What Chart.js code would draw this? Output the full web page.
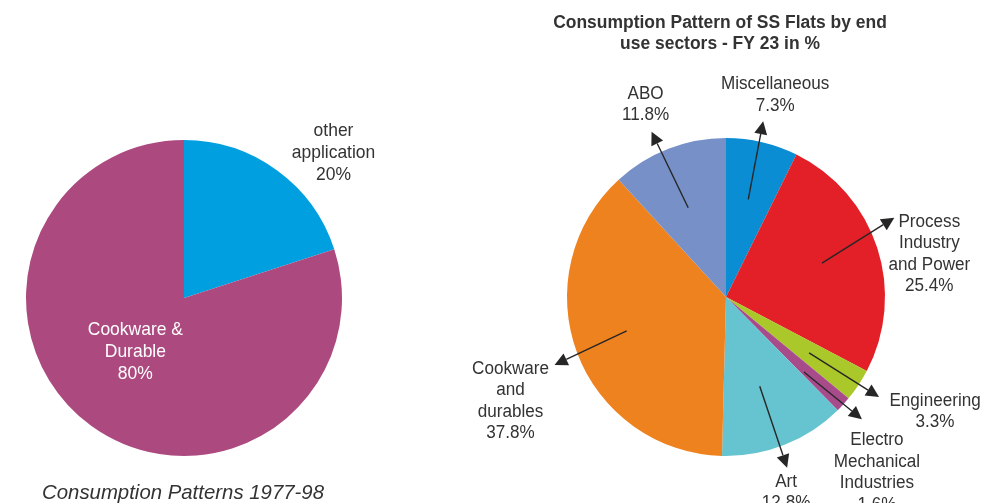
<!DOCTYPE html>
<html>
<head>
<meta charset="utf-8">
<script src="https://cdn.jsdelivr.net/npm/chart.js@4/dist/chart.umd.min.js"></script>
<style>
  html, body { margin: 0; padding: 0; background: #fff; }
  body { width: 1004px; height: 503px; position: relative; overflow: hidden; }
  .box { position: absolute; top: 0; height: 503px; }
  #leftBox { left: 0; width: 380px; }
  #rightBox { left: 380px; width: 624px; }
</style>
</head>
<body>
<div class="box" id="leftBox"><canvas id="pieOld"></canvas></div>
<div class="box" id="rightBox"><canvas id="pieFY23"></canvas></div>
<script>
// 1977-98 split
var oldLabels = [["other", "application"], ["Cookware &", "Durable"]];
var oldValues = [20, 80];
var oldColors = ["#009fe0", "#ac4a80"];

// FY 23 end use sectors, %
var fyLabels = [
  ["Miscellaneous"],
  ["Process", "Industry", "and Power"],
  ["Engineering"],
  ["Electro", "Mechanical", "Industries"],
  ["Art"],
  ["Cookware", "and", "durables"],
  ["ABO"]
];
var fyValues = [7.3, 25.4, 3.3, 1.6, 12.8, 37.8, 11.8];
var fyColors = ["#0a8dd3", "#e31f27", "#abc82a", "#a74b8b", "#66c3d0", "#ee821f", "#7791c8"];

var FONT = "'Liberation Sans', Arial, sans-serif";
var INK = "#333333";

// polar helper: angle offset in degrees, radius as fraction of outer radius
function polar(arc, dDeg, rf) {
  var a = (arc.startAngle + arc.endAngle) / 2 + dDeg * Math.PI / 180;
  return { x: arc.x + Math.cos(a) * arc.outerRadius * rf, y: arc.y + Math.sin(a) * arc.outerRadius * rf };
}

// text squeezed horizontally to get the narrow look
function squeezed(ctx, t, x, y, sx) {
  ctx.save();
  ctx.translate(x, y);
  ctx.scale(sx, 1);
  ctx.fillText(t, 0, 0);
  ctx.restore();
}

function drawLines(ctx, lines, x, y, lh, sx) {
  lines.forEach(function (t, i) { squeezed(ctx, t, x, y + i * lh, sx); });
}

function arrow(ctx, from, to) {
  var ang = Math.atan2(to.y - from.y, to.x - from.x);
  var len = 13, half = 6.5;
  var bx = to.x - Math.cos(ang) * len, by = to.y - Math.sin(ang) * len;
  ctx.strokeStyle = "#262626";
  ctx.fillStyle = "#262626";
  ctx.lineWidth = 1.4;
  ctx.beginPath();
  ctx.moveTo(from.x, from.y);
  ctx.lineTo(bx, by);
  ctx.stroke();
  ctx.beginPath();
  ctx.moveTo(to.x, to.y);
  ctx.lineTo(bx - Math.sin(ang) * half, by + Math.cos(ang) * half);
  ctx.lineTo(bx + Math.sin(ang) * half, by - Math.cos(ang) * half);
  ctx.closePath();
  ctx.fill();
}

// label placement for the old chart: [angle offset, radius fraction, colour]
var oldPlace = [[9.8, 1.32, INK], [6, 0.46, "#ffffff"]];

var oldNotes = {
  id: "oldNotes",
  afterDraw: function (chart) {
    var ctx = chart.ctx;
    var arcs = chart.getDatasetMeta(0).data;
    ctx.save();
    ctx.font = "19px " + FONT;
    ctx.textAlign = "center";
    ctx.textBaseline = "middle";
    arcs.forEach(function (el, i) {
      var arc = el.getProps(["x", "y", "startAngle", "endAngle", "outerRadius"], true);
      var p = polar(arc, oldPlace[i][0], oldPlace[i][1]);
      var lines = oldLabels[i].concat([oldValues[i] + "%"]);
      ctx.fillStyle = oldPlace[i][2];
      drawLines(ctx, lines, p.x, p.y - (lines.length - 1) * 11, 22, 0.92);
    });
    ctx.fillStyle = INK;
    ctx.font = "italic 21px " + FONT;
    ctx.textBaseline = "alphabetic";
    squeezed(ctx, "Consumption Patterns 1977-98", arcs[0].x - 1, 499, 0.97);
    ctx.restore();
  }
};

// arrow tail [deg, r], arrow tip [deg, r], first text line offset from tip [dx, dy]
var fyPlace = [
  [[-0.3, 0.63], [-1.2, 1.13], [12, -37]],
  [[-1.5, 0.64], [-7.2, 1.17], [35, 4]],
  [[0.3, 0.63], [-0.5, 1.15], [56, 4]],
  [[1.4, 0.68], [-0.5, 1.15], [15, 21]],
  [[0.9, 0.60], [1.9, 1.14], [-1, 14]],
  [[1.7, 0.66], [-1.1, 1.16], [-44, 4]],
  [[-1.7, 0.61], [-3.0, 1.14], [-6, -38]]
];

var fyNotes = {
  id: "fyNotes",
  afterDraw: function (chart) {
    var ctx = chart.ctx;
    var arcs = chart.getDatasetMeta(0).data;
    ctx.save();
    arcs.forEach(function (el, i) {
      var arc = el.getProps(["x", "y", "startAngle", "endAngle", "outerRadius"], true);
      var pl = fyPlace[i];
      var from = polar(arc, pl[0][0], pl[0][1]);
      var tip = polar(arc, pl[1][0], pl[1][1]);
      arrow(ctx, from, tip);
      var lines = fyLabels[i].concat([fyValues[i].toFixed(1) + "%"]);
      ctx.fillStyle = INK;
      ctx.font = "18px " + FONT;
      ctx.textAlign = "center";
      ctx.textBaseline = "middle";
      drawLines(ctx, lines, tip.x + pl[2][0], tip.y + pl[2][1], 21.5, 0.95);
    });
    ctx.fillStyle = INK;
    ctx.font = "bold 18px " + FONT;
    ctx.textAlign = "center";
    ctx.textBaseline = "alphabetic";
    var cx = arcs[0].x - 6;
    squeezed(ctx, "Consumption Pattern of SS Flats by end", cx, 28, 0.97);
    squeezed(ctx, "use sectors - FY 23 in %", cx, 49, 0.97);
    ctx.restore();
  }
};

var common = {
  responsive: true,
  maintainAspectRatio: false,
  animation: false,
  plugins: { legend: { display: false }, tooltip: { enabled: false } }
};

new Chart(document.getElementById("pieOld"), {
  type: "pie",
  data: {
    labels: oldLabels.map(function (l) { return l.join(" "); }),
    datasets: [{ data: oldValues, backgroundColor: oldColors, borderWidth: 0 }]
  },
  options: Object.assign({}, common, {
    layout: { padding: { left: 26, right: 38, top: 140, bottom: 47 } }
  }),
  plugins: [oldNotes]
});

new Chart(document.getElementById("pieFY23"), {
  type: "pie",
  data: {
    labels: fyLabels.map(function (l) { return l.join(" "); }),
    datasets: [{ data: fyValues, backgroundColor: fyColors, borderWidth: 0 }]
  },
  options: Object.assign({}, common, {
    layout: { padding: { left: 187, right: 119, top: 138, bottom: 47 } }
  }),
  plugins: [fyNotes]
});
</script>
</body>
</html>
